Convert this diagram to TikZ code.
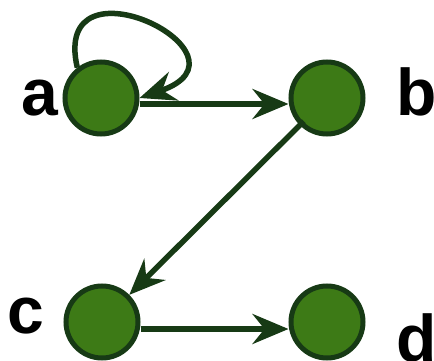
\documentclass[tikz,border=0pt]{standalone}
\usepackage{fontspec}
\setmainfont{Liberation Sans}
\usetikzlibrary{arrows.meta,calc}
\definecolor{vfill}{HTML}{3D7A16}
\definecolor{vline}{HTML}{173A15}
\begin{document}
\begin{tikzpicture}[x=1pt,y=-1pt,
  vertex/.style={circle,draw=vline,fill=vfill,line width=5pt,minimum size=72pt,inner sep=0pt},
  vlabel/.style={anchor=base,inner sep=0pt,font=\fontsize{66}{66}\bfseries\selectfont},
  edge/.style={draw=vline,line width=5.5pt,-{Stealth[length=36pt,width=30pt,inset=12pt]}}]
\useasboundingbox (0,0) rectangle (434,361);
% vertices
\node[vertex] (a) at (101,98) {};
\node[vertex] (b) at (327,98) {};
\node[vertex] (c) at (102,322) {};
\node[vertex] (d) at (327,322) {};
% labels
\node[vlabel] (la) at (40,115) {a};
\node[vlabel] (lb) at (417,115) {b};
\node[vlabel] (lc) at (26,333) {c};
\node[vlabel] (ld) at (417,361) {d};
% edges
\draw[edge] (a.128) .. controls (50,-50) and (265,55) .. (a.east);
\draw[edge] ([yshift=-6pt]a.east) -- ([yshift=-6pt]b.west);
\draw[edge] ($(b.center)!0.85!(b.225)$) -- (c);
\draw[edge] ([yshift=-7pt]c.east) -- ([yshift=-7pt]d.west);
\end{tikzpicture}
\end{document}
